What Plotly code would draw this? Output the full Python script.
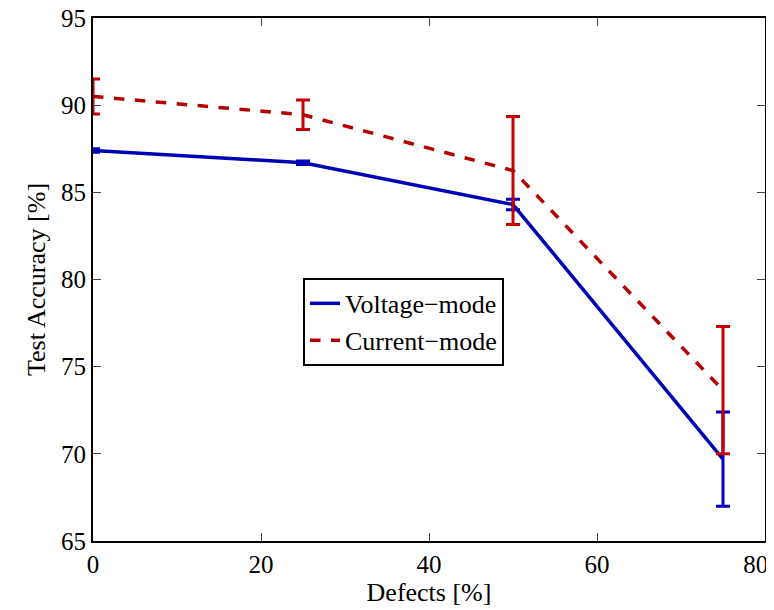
import plotly.graph_objects as go

defects = [0, 25, 50, 75]
voltage_acc = [87.4, 86.7, 84.3, 69.7]
voltage_err = [0.1, 0.1, 0.3, 2.7]
current_acc = [90.5, 89.45, 86.25, 73.65]
current_err = [1.0, 0.85, 3.1, 3.65]

x_ticks = [0, 20, 40, 60, 80]
x_tick_labels = ["0", "20", "40", "60", "80\u00a0\u00a0\u00a0"]
y_ticks = [65, 70, 75, 80, 85, 90, 95]

fig = go.Figure()
fig.add_trace(go.Scatter(
    x=defects, y=voltage_acc, mode="lines", name="Voltage\u2212mode",
    line=dict(color="#0000b4", width=3.5),
    error_y=dict(type="data", array=voltage_err, visible=True,
                 color="#0000c8", thickness=3, width=7),
))
fig.add_trace(go.Scatter(
    x=defects, y=current_acc, mode="lines", name="Current\u2212mode",
    line=dict(color="#b40000", width=3.5, dash="dash"),
    error_y=dict(type="data", array=current_err, visible=True,
                 color="#c80000", thickness=3, width=7),
))

fam = "Liberation Serif, Times New Roman, serif"
tick_font = dict(family=fam, size=25, color="black")
title_font = dict(family=fam, size=26, color="black")
fig.update_layout(
    width=774, height=610,
    margin=dict(l=85, r=17, t=10, b=77),
    paper_bgcolor="white", plot_bgcolor="white",
    font=tick_font,
    showlegend=True,
    legend=dict(x=0.3125, y=0.503, xanchor="left", yanchor="top",
                bgcolor="white", bordercolor="black", borderwidth=2,
                font=dict(family=fam, size=26, color="black")),
    xaxis=dict(range=[0, 80], tickvals=x_ticks, ticktext=x_tick_labels,
               ticks="inside", ticklen=8,
               showline=True, linecolor="black", linewidth=2, mirror="ticks",
               showgrid=False, zeroline=False, automargin=False,
               ticklabeloverflow="allow", tickfont=tick_font,
               title=dict(text="Defects [%]", standoff=2, font=title_font)),
    yaxis=dict(range=[65, 95], tickvals=y_ticks, ticks="inside", ticklen=8,
               showline=True, linecolor="black", linewidth=2, mirror="ticks",
               showgrid=False, zeroline=False, automargin=False,
               ticklabeloverflow="allow", tickfont=tick_font,
               title=dict(text="Test Accuracy [%]", standoff=8, font=title_font)),
)

fig.write_html("out.html")
